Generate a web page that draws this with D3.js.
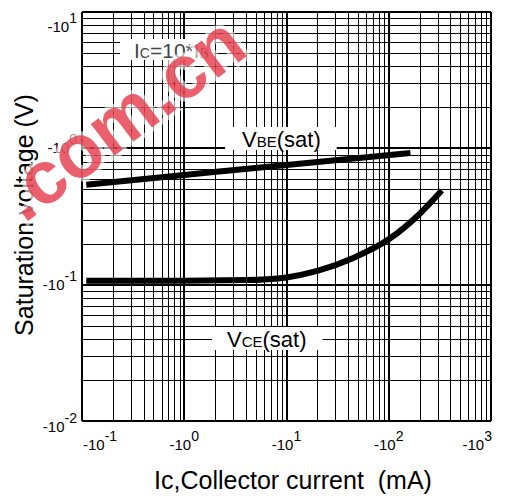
<!DOCTYPE html>
<html>
<head>
<meta charset="utf-8">
<script src="https://cdn.jsdelivr.net/npm/d3@7"></script>
<style>
  body { margin: 0; background: #fff; }
  svg { display: block; font-family: "Liberation Sans", Arial, sans-serif; }
  text { white-space: pre; }
</style>
</head>
<body>
<svg id="chart" width="508" height="501"></svg>
<script>
// Data (Ic in mA, voltage in V)
const vbeCurrent = [0.11, 1, 10, 163];
const vbeVoltage = [0.54, 0.637, 0.756, 0.923];

const vceCurrent = [0.11, 1, 4, 10, 20, 45, 100, 200, 330];
const vceVoltage = [0.107, 0.107, 0.108, 0.113, 0.126, 0.157, 0.215, 0.33, 0.49];

const xTickValues = [0.1, 1, 10, 100, 1000];
const xTickExps = ["-1", "0", "1", "2", "3"];
const yTickValues = [10, 1, 0.1, 0.01];
const yTickExps = ["1", "0", "-1", "-2"];

const svg = d3.select("#chart");
const plotLeft = 82, plotRight = 491, plotTop = 12, plotBottom = 421;

const x = d3.scaleLog().domain([0.1, 1000]).range([plotLeft, plotRight]);
const y = d3.scaleLog().domain([0.01, 10]).range([plotBottom, plotTop]);

const crisp = v => Math.round(v) + 0.5;
const isDecade = v => Math.abs(Math.log10(v) - Math.round(Math.log10(v))) < 1e-9;

// Grid
const grid = svg.append("g");
x.ticks().forEach(v => {
  const major = isDecade(v);
  const px = major ? Math.round(x(v)) : crisp(x(v));
  grid.append("line")
    .attr("x1", px).attr("x2", px).attr("y1", plotTop).attr("y2", plotBottom)
    .attr("stroke", "#000").attr("stroke-width", major ? 2 : 1);
});
y.ticks().forEach(v => {
  const major = isDecade(v);
  const py = major ? Math.round(y(v)) : crisp(y(v));
  grid.append("line")
    .attr("x1", plotLeft).attr("x2", plotRight).attr("y1", py).attr("y2", py)
    .attr("stroke", "#000").attr("stroke-width", major ? 2 : 1);
});

// Labels inside plot, with white boxes
function boxedLabel(parts, px, py, size, color, padL, padR) {
  const g = svg.append("g");
  const rect = g.append("rect").attr("fill", "#fff");
  const t = g.append("text").attr("x", px).attr("y", py)
    .attr("font-size", size).attr("fill", color);
  parts.forEach(p => t.append("tspan").attr("font-size", p[1]).text(p[0]));
  const b = t.node().getBBox();
  rect.attr("x", b.x - padL).attr("y", b.y)
    .attr("width", b.width + padL + padR).attr("height", b.height - 2);
}
boxedLabel([["I", 21], ["C", 14], ["=10*I", 21], ["B", 14]], 134, 58, 21, "#444", 14, 5);
boxedLabel([["V", 22], ["BE", 15], ["(sat)", 22]], 242, 147, 22, "#000", 17, 16);
boxedLabel([["V", 22], ["CE", 15], ["(sat)", 22]], 227, 347, 22, "#000", 15, 16);

// Curves
const line = d3.line()
  .x(d => x(d[0]))
  .y(d => y(d[1]))
  .curve(d3.curveMonotoneX);

svg.append("path")
  .datum(vbeCurrent.map((c, i) => [c, vbeVoltage[i]]))
  .attr("fill", "none").attr("stroke", "#000").attr("stroke-width", 6)
  .attr("d", line);

svg.append("path")
  .datum(vceCurrent.map((c, i) => [c, vceVoltage[i]]))
  .attr("fill", "none").attr("stroke", "#000").attr("stroke-width", 6)
  .attr("d", line);

// Tick labels
function powerLabel(g, exp) {
  g.append("tspan").text("-10");
  g.append("tspan")
    .attr("font-size", 14)
    .attr("dy", -9)
    .text(exp);
}

xTickValues.forEach((v, i) => {
  const last = i === xTickValues.length - 1;
  const t = svg.append("text")
    .attr("x", i === 0 || last ? x(v) + 1 : x(v))
    .attr("y", 450)
    .attr("font-size", 15)
    .attr("text-anchor", i === 0 ? "start" : last ? "end" : "middle");
  powerLabel(t, xTickExps[i]);
});

yTickValues.forEach((v, i) => {
  const nudge = v === 10 ? 15 : v === 0.01 ? 6 : 0;
  const t = svg.append("text")
    .attr("x", 77)
    .attr("y", y(v) + 5 + nudge)
    .attr("font-size", 15)
    .attr("text-anchor", "end");
  powerLabel(t, yTickExps[i]);
});

// Axis titles
svg.append("text")
  .attr("x", 293).attr("y", 489)
  .attr("font-size", 25)
  .attr("text-anchor", "middle")
  .text("Ic,Collector current  (mA)");

svg.append("text")
  .attr("transform", "translate(33,215) rotate(-90)")
  .attr("font-size", 25)
  .attr("text-anchor", "middle")
  .text("Saturation voltage (V)");

// Watermark
svg.append("text")
  .attr("transform", "translate(24,224) rotate(-37)")
  .attr("font-size", 75)
  .attr("font-weight", "bold")
  .attr("fill", "#e53a48")
  .attr("fill-opacity", 0.8)
  .attr("stroke", "#fff")
  .attr("stroke-opacity", 0.6)
  .attr("stroke-width", 8)
  .attr("paint-order", "stroke")
  .text(".com.cn");
</script>
</body>
</html>
